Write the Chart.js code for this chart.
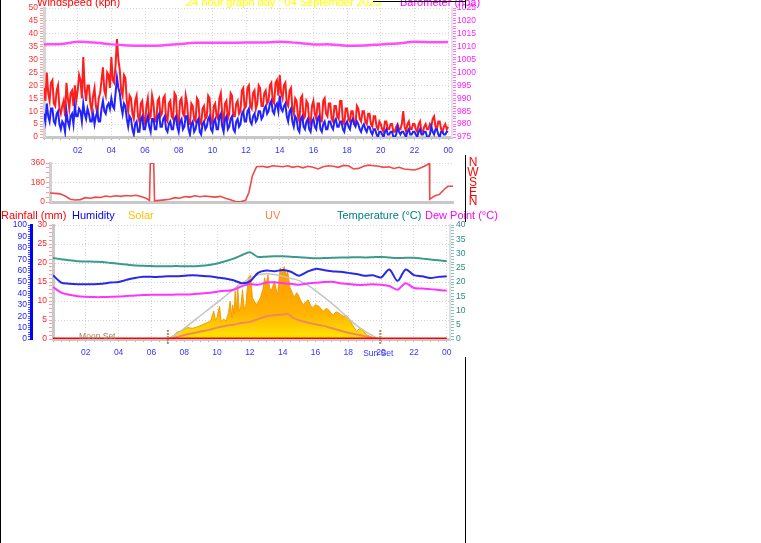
<!DOCTYPE html>
<html>
<head>
<meta charset="utf-8">
<script src="https://cdn.jsdelivr.net/npm/chart.js@4/dist/chart.umd.min.js"></script>
<style>
body { margin: 0; background: #fff; width: 761px; height: 543px; overflow: hidden; position: relative; }
canvas { position: absolute; left: 0; }
.edge { position: absolute; background: #000; }
</style>
</head>
<body>
<canvas id="windChart" width="500" height="160" style="top:0"></canvas>
<canvas id="dirChart" width="480" height="62" style="top:150px"></canvas>
<canvas id="lowerChart" width="500" height="155" style="top:205px"></canvas>
<div class="edge" style="left:0;top:0;width:1px;height:543px"></div>
<div class="edge" style="left:373px;top:1px;width:93px;height:1px"></div>
<div class="edge" style="left:465px;top:0;width:1px;height:8px"></div>
<div class="edge" style="left:465px;top:155px;width:1px;height:67px"></div>
<div class="edge" style="left:465px;top:357px;width:1px;height:186px"></div>
<script>
// narrow font if the machine has it, otherwise the regular one a bit smaller
function hasFont(name) {
  const c = document.createElement('canvas').getContext('2d');
  c.font = '20px "' + name + '", monospace';
  const a = c.measureText('Temperature 1025').width;
  c.font = '20px monospace';
  return a !== c.measureText('Temperature 1025').width;
}
const NARROW = hasFont('Liberation Sans Narrow');
const FONT = NARROW ? '"Liberation Sans Narrow", "Liberation Sans", Arial, sans-serif' : '"Liberation Sans", Arial, sans-serif';
const HEAD_SIZE = NARROW ? 13 : 11;
const TICK_SIZE = NARROW ? 10 : 8.5;

// time axis labels (hours of the day)
const tickHours = [2, 4, 6, 8, 10, 12, 14, 16, 18, 20, 22, 24];
const tickLabels = ['02', '04', '06', '08', '10', '12', '14', '16', '18', '20', '22', '00'];

// wind speed, one reading every 5 minutes (kph), one row per hour
const windGust = [
  19, 14, 25, 17, 14, 21, 22, 13, 12, 18, 20, 11,
  9, 12, 14, 8, 21, 15, 11, 17, 18, 12, 20, 14,
  18, 24, 22, 15, 31, 19, 14, 20, 20, 13, 10, 16,
  19, 12, 9, 15, 17, 22, 27, 18, 16, 25, 24, 19,
  31, 22, 21, 28, 38, 30, 26, 18, 16, 24, 23, 14,
  10, 16, 15, 9, 7, 14, 16, 8, 6, 13, 14, 7,
  5, 12, 15, 7, 8, 16, 13, 6, 6, 14, 15, 8,
  9, 15, 16, 7, 6, 13, 14, 8, 7, 17, 16, 6,
  5, 14, 15, 9, 8, 16, 13, 5, 5, 13, 12, 7,
  6, 15, 14, 6, 5, 11, 12, 7, 8, 16, 15, 6,
  5, 12, 13, 8, 7, 15, 17, 9, 6, 13, 14, 7,
  9, 17, 16, 8, 8, 13, 14, 9, 10, 18, 19, 11,
  12, 19, 20, 12, 11, 17, 18, 11, 13, 20, 19, 12,
  12, 17, 18, 13, 14, 20, 21, 14, 13, 21, 22, 16,
  24, 17, 15, 20, 21, 13, 12, 18, 19, 11, 9, 15,
  14, 8, 6, 15, 16, 7, 8, 14, 13, 6, 5, 12,
  14, 9, 7, 13, 13, 6, 6, 14, 15, 9, 8, 13,
  13, 7, 6, 12, 12, 8, 7, 14, 14, 6, 5, 11,
  11, 7, 6, 10, 10, 5, 5, 12, 11, 7, 6, 10,
  10, 6, 5, 9, 9, 5, 4, 8, 8, 4, 3, 6,
  5, 3, 2, 6, 6, 3, 3, 5, 5, 2, 2, 4,
  5, 3, 3, 5, 10, 4, 2, 5, 6, 3, 3, 5,
  5, 3, 2, 5, 6, 2, 2, 4, 5, 3, 3, 5,
  4, 7, 8, 4, 3, 6, 6, 3, 2, 4, 5, 3,
  4
];
const windAvg = [
  9, 6, 13, 8, 6, 11, 11, 6, 5, 9, 10, 5,
  3, 6, 5, 2, 10, 6, 4, 8, 9, 5, 12, 8,
  8, 11, 10, 6, 13, 9, 7, 11, 9, 6, 6, 9,
  5, 8, 10, 6, 6, 11, 14, 10, 9, 12, 13, 11,
  15, 12, 11, 17, 23, 19, 17, 12, 9, 13, 12, 7,
  4, 8, 7, 3, 1, 5, 6, 2, 2, 7, 8, 3,
  3, 6, 8, 4, 2, 7, 7, 3, 3, 8, 9, 4,
  4, 7, 8, 3, 2, 5, 6, 3, 3, 7, 8, 4,
  2, 6, 7, 3, 4, 8, 8, 3, 1, 5, 6, 2,
  3, 6, 7, 2, 1, 5, 6, 3, 4, 7, 8, 3,
  2, 6, 7, 3, 3, 8, 9, 4, 2, 7, 8, 3,
  4, 7, 8, 3, 2, 6, 7, 4, 5, 9, 10, 6,
  6, 10, 11, 6, 5, 8, 9, 6, 7, 10, 10, 7,
  8, 11, 12, 9, 10, 13, 14, 10, 9, 12, 13, 10,
  16, 11, 10, 12, 13, 8, 6, 10, 11, 6, 4, 8,
  7, 3, 2, 7, 8, 4, 3, 6, 7, 3, 2, 6,
  7, 4, 3, 7, 8, 3, 2, 5, 6, 3, 3, 6,
  6, 4, 3, 6, 7, 4, 4, 6, 6, 3, 2, 5,
  6, 4, 3, 6, 7, 5, 4, 6, 5, 3, 2, 4,
  5, 3, 2, 4, 4, 2, 1, 3, 3, 1, 0, 2,
  2, 1, 0, 2, 3, 1, 1, 2, 2, 0, 0, 1,
  4, 2, 1, 2, 2, 1, 0, 2, 3, 1, 1, 2,
  2, 1, 0, 2, 3, 1, 1, 2, 2, 0, 0, 1,
  4, 2, 1, 3, 3, 1, 0, 2, 2, 1, 1, 2,
  2
];

// barometer, hourly (hpa)
const baroHours = [0, 1, 2, 3, 4, 5, 6, 7, 8, 9, 10, 11, 12, 13, 14, 15, 16, 17, 18, 19, 20, 21, 22, 23, 24];
const baroValues = [1010.9, 1011.0, 1011.9, 1011.6, 1010.9, 1010.5, 1010.4, 1010.5, 1011.0, 1011.5, 1011.5, 1011.5,
  1011.6, 1011.6, 1011.9, 1011.5, 1010.9, 1010.9, 1010.4, 1010.5, 1010.9, 1011.2, 1011.9, 1011.7, 1011.8];

// wind direction (degrees)
const dirHours = [0.4, 0.7, 1.0, 1.3, 1.6, 1.9, 2.2, 2.5, 2.8, 3.1, 3.4, 3.7, 4.0, 4.3, 4.6, 4.9, 5.2, 5.5, 5.8, 6.1,
  6.3, 6.35, 6.55, 6.6, 6.9, 7.2, 7.5, 7.8, 8.1, 8.4, 8.7, 9.0, 9.3, 9.6, 9.9, 10.2, 10.5, 10.8, 11.1, 11.4,
  11.7, 12.0, 12.2, 12.4, 12.65, 13.0, 13.3, 13.6, 13.9, 14.2, 14.5, 14.8, 15.1, 15.4, 15.7, 16.0, 16.3, 16.6, 16.9, 17.2,
  17.5, 17.8, 18.1, 18.4, 18.7, 19.0, 19.3, 19.6, 19.9, 20.2, 20.5, 20.8, 21.1, 21.4, 21.7, 22.0, 22.3, 22.6, 22.9, 22.92,
  23.2, 23.5, 23.8, 24.0, 24.3];
const dirValues = [83, 80, 75, 55, 25, 18, 22, 40, 35, 45, 42, 55, 48, 58, 52, 60, 55, 62, 50, 35,
  15, 355, 360, 10, 15, 20, 25, 40, 35, 50, 45, 58, 48, 55, 50, 45, 52, 35, 20, 5,
  2, 15, 90, 240, 325, 330, 320, 335, 330, 325, 335, 320, 330, 315, 330, 320, 305, 325, 335, 330,
  320, 338, 335, 305, 310, 330, 340, 335, 330, 320, 325, 310, 320, 305, 300, 295, 310, 330, 355, 25,
  55, 70, 120, 145, 145];
const compassLabels = ['N', 'W', 'S', 'E', 'N'];
const compassDegrees = [360, 270, 180, 90, 0];

// temperature / humidity / dew point, every half hour
const temperature = [28.4, 28.0, 27.6, 27.3, 27.2, 27.1, 27.0, 26.7, 26.4, 26.1, 25.8, 25.7, 25.6, 25.5, 25.5, 25.6,
  25.5, 25.5, 25.7, 26.0, 26.5, 27.3, 28.2, 29.4, 30.4, 28.8, 28.9, 29.0, 29.0, 28.9, 28.7, 28.5,
  28.3, 28.4, 28.5, 28.6, 28.6, 28.7, 28.6, 28.7, 28.8, 28.6, 28.4, 28.5, 28.5, 28.2, 27.9, 27.6, 27.3];
const humidity = [56, 49.5, 48.5, 48, 48, 48, 48.5, 49.5, 50, 52, 53.5, 54.5, 54.5, 54.5, 55, 55,
  55.5, 56, 55.5, 55, 54, 53, 51.5, 49, 50.5, 58, 60, 59.5, 60.5, 59, 55.5, 59,
  61.5, 60.5, 59.5, 59, 58, 57, 55.5, 56, 54, 61, 51, 61, 56, 55, 53.5, 54.5, 55];
const dewPoint = [18.2, 16.3, 15.5, 15.0, 14.8, 14.7, 14.7, 14.8, 14.9, 15.1, 15.3, 15.4, 15.5, 15.5, 15.5, 15.6,
  15.6, 15.7, 16.0, 16.2, 16.6, 16.9, 17.2, 18.5, 19.3, 19.0, 19.8, 19.9, 19.6, 19.4, 19.0, 19.5,
  19.7, 20.0, 20.1, 19.6, 19.3, 19.0, 19.0, 19.2, 19.0, 18.6, 17.3, 19.6, 17.9, 17.7, 17.5, 17.2, 17.0];

// rainfall (mm)
const rainHours = [0, 24];
const rainValues = [0, 0];

// solar radiation (W/m2), measured and clear-sky
const solarHours = [0, 7.0, 7.3, 7.6, 7.9, 8.2, 8.5, 8.8, 9.1, 9.4, 9.6, 9.8, 9.9, 10.0, 10.15, 10.25, 10.4, 10.55, 10.7, 10.8,
  10.9, 10.95, 11.05, 11.1, 11.2, 11.25, 11.35, 11.45, 11.55, 11.65, 11.75, 11.9, 12.05, 12.15, 12.3, 12.4, 12.55, 12.65, 12.8, 12.9,
  13.0, 13.1, 13.2, 13.3, 13.4, 13.5, 13.6, 13.7, 13.85, 13.95, 14.1, 14.2, 14.3, 14.45, 14.6, 14.7, 14.85, 14.95, 15.1, 15.25,
  15.4, 15.55, 15.7, 15.85, 16.0, 16.2, 16.35, 16.5, 16.65, 16.8, 16.95, 17.1, 17.25, 17.4, 17.55, 17.7, 17.85, 18.0, 18.25, 18.5,
  18.7, 18.85, 19.1, 19.35, 19.7, 19.95, 24];
const solarValues = [0, 0, 40, 100, 120, 160, 150, 170, 200, 230, 250, 390, 260, 300, 460, 240, 280, 250, 370, 530,
  300, 480, 350, 670, 400, 760, 390, 450, 690, 420, 460, 860, 900, 580, 520, 480, 540, 580, 700, 860,
  760, 900, 720, 670, 740, 810, 700, 620, 1000, 930, 1015, 880, 950, 720, 640, 580, 650, 620, 540, 480,
  520, 550, 470, 440, 480, 460, 420, 390, 430, 410, 360, 340, 380, 370, 340, 320, 330, 300, 200, 107,
  150, 130, 60, 35, 10, 0, 0];
const clearSkyHours = [7.0, 7.5, 8, 8.5, 9, 9.5, 10, 10.5, 11, 11.5, 12, 12.5, 13, 13.5, 14, 14.5, 15, 15.5, 16, 16.5,
  17, 17.5, 18, 18.5, 19, 19.5, 19.9];
const clearSkyValues = [0, 60, 150, 240, 330, 420, 510, 600, 700, 780, 850, 900, 915, 905, 880, 850, 820, 760, 680, 590,
  500, 400, 290, 190, 110, 45, 0];

// UV index
const uvHours = [0, 7.0, 7.5, 8.0, 8.5, 9.0, 9.5, 10.0, 10.5, 11.0, 11.5, 12.0, 12.5, 13.0, 13.5, 14.0, 14.3, 14.6, 15.0, 15.5,
  16.0, 16.5, 17.0, 17.5, 18.0, 18.5, 19.0, 19.5, 19.9, 24];
const uvValues = [0, 0, 0.3, 0.7, 1.0, 1.3, 1.6, 2.0, 2.3, 2.5, 2.8, 3.0, 3.5, 4.0, 4.2, 4.3, 4.4, 3.8, 3.3, 2.9,
  2.6, 2.3, 1.9, 1.5, 1.1, 0.8, 0.5, 0.2, 0, 0];

// sun events
const sunriseHour = 7.0;
const sunsetHour = 19.95;
const moonSetLabelHour = 2.7;

const windTimes = windGust.map((_, i) => i / 12);
const halfHours = temperature.map((_, i) => i / 2);
const pts = (xs, ys) => xs.map((x, i) => ({ x: x, y: ys[i] }));
const isStep = (v, step) => Math.abs(v / step - Math.round(v / step)) < 1e-6;
const HIDE = 'rgba(0,0,0,0)';
const tickFont = { family: FONT, size: TICK_SIZE };

function timeAxis(min, max, height) {
  return {
    type: 'linear', min: min, max: max,
    afterFit: s => { s.height = height; },
    afterBuildTicks: s => {
      const t = [];
      for (let v = 0; v <= 24; v += 0.5) t.push({ value: v });
      s.ticks = t;
    },
    ticks: {
      stepSize: 0.5, autoSkip: false, maxRotation: 0, padding: 6,
      color: '#3434FF', font: tickFont,
      callback: v => { const i = tickHours.indexOf(v); return i >= 0 ? tickLabels[i] : ''; }
    },
    grid: {
      color: c => (c.tick && isStep(c.tick.value, 2) && c.tick.value > 0) ? '#D6D6D6' : HIDE,
      tickColor: '#B8B8B8', tickLength: 3
    },
    border: { color: '#C8C8C8', width: 3, dash: [1, 2] }
  };
}

function valueAxis(o) {
  return {
    type: 'linear', position: o.position, min: o.min, max: o.max, weight: o.weight || 0,
    afterFit: s => { s.width = o.width; },
    ticks: {
      stepSize: o.step, autoSkip: false, padding: o.padding || 2,
      color: o.labelColor, font: tickFont,
      callback: v => isStep(v, o.labelStep) ? String(v) : ''
    },
    grid: {
      drawOnChartArea: !!o.gridStep,
      color: c => (o.gridStep && c.tick && isStep(c.tick.value, o.gridStep) && c.tick.value > o.min) ? '#D6D6D6' : HIDE,
      tickColor: o.tickColor, tickLength: o.tickLength || 4
    },
    border: { color: o.borderColor, width: o.borderWidth, dash: [1, 2] }
  };
}

const common = {
  responsive: false, animation: false, events: [],
  plugins: { legend: { display: false }, tooltip: { enabled: false } },
  elements: { point: { radius: 0 }, line: { tension: 0 } }
};

// TOP PANEL: wind speed + barometer
new Chart(document.getElementById('windChart'), {
  type: 'line',
  data: {
    datasets: [
      { data: pts(baroHours, baroValues), yAxisID: 'yBaro', borderColor: '#FF4CFF', borderWidth: 2.5, tension: 0.3 },
      { data: pts(windTimes, windAvg), yAxisID: 'yWind', borderColor: '#2222FF', borderWidth: 2 },
      { data: pts(windTimes, windGust), yAxisID: 'yWind', borderColor: '#FF1E1E', borderWidth: 2 }
    ]
  },
  options: Object.assign({}, common, {
    layout: { padding: { top: 8, right: 20 } },
    scales: {
      x: timeAxis(0, 24.23, 23),
      yWind: valueAxis({ position: 'left', min: 0, max: 50, step: 1, labelStep: 5, gridStep: 5, width: 44,
        labelColor: '#FF3030', tickColor: '#FF9A9A', borderColor: '#D4D4D4', borderWidth: 3 }),
      yBaro: valueAxis({ position: 'right', min: 975, max: 1025, step: 1, labelStep: 5, gridStep: 0, width: 28,
        labelColor: '#FF22FF', tickColor: '#FF70FF', borderColor: '#E4E4E4', borderWidth: 2, padding: 1 })
    }
  }),
  plugins: [{
    id: 'titles',
    afterDraw(chart) {
      const c = chart.ctx;
      c.save();
      c.font = HEAD_SIZE + 'px ' + FONT;
      c.textBaseline = 'alphabetic';
      c.fillStyle = '#FF0000'; c.fillText('Windspeed (kph)', 37, 6);
      c.fillStyle = '#FFFF00'; c.fillText('24 hour graph day : 04 September 2025', 186, 6);
      c.fillStyle = '#FF00FF'; c.fillText('Barometer (hpa)', 400, 6);
      c.restore();
    }
  }]
});

// MIDDLE PANEL: wind direction
new Chart(document.getElementById('dirChart'), {
  type: 'line',
  data: {
    datasets: [
      { data: pts(dirHours, dirValues), yAxisID: 'yDir', borderColor: '#F24848', borderWidth: 1.6 }
    ]
  },
  options: Object.assign({}, common, {
    layout: { padding: { top: 13, right: 27 } },
    scales: {
      x: {
        type: 'linear', min: 0.4, max: 24.3,
        afterFit: s => { s.height = 10; },
        ticks: { display: false }, grid: { display: false },
        border: { color: '#C8C8C8', width: 3 }
      },
      yDir: valueAxis({ position: 'left', min: 0, max: 360, step: 45, labelStep: 180, gridStep: 180, width: 50,
        labelColor: '#FF3030', tickColor: '#FF9A9A', borderColor: '#D0D0D0', borderWidth: 3, padding: 1 })
    }
  }),
  plugins: [{
    id: 'compass',
    afterDraw(chart) {
      const c = chart.ctx, y = chart.scales.yDir;
      c.save();
      c.font = (HEAD_SIZE + 1) + 'px ' + FONT;
      c.fillStyle = '#FF0000';
      c.textAlign = 'center';
      c.textBaseline = 'middle';
      compassLabels.forEach((t, i) => c.fillText(t, 473, y.getPixelForValue(compassDegrees[i])));
      c.restore();
    }
  }]
});

// LOWER PANEL: temperature, humidity, dew point, solar, UV, rain
new Chart(document.getElementById('lowerChart'), {
  type: 'line',
  data: {
    datasets: [
      { data: pts(rainHours, rainValues), yAxisID: 'yRain', borderColor: '#FF0000', borderWidth: 3 },
      { data: pts(halfHours, temperature), yAxisID: 'yTemp', borderColor: '#3A9A8C', borderWidth: 2, tension: 0.3 },
      { data: pts(halfHours, humidity), yAxisID: 'yHum', borderColor: '#2828E8', borderWidth: 2, tension: 0.3 },
      { data: pts(halfHours, dewPoint), yAxisID: 'yTemp', borderColor: '#FF33FF', borderWidth: 2, tension: 0.3 },
      { data: pts(uvHours, uvValues), yAxisID: 'yUV', borderColor: '#F08A5A', borderWidth: 2, tension: 0.3 },
      { data: pts(clearSkyHours, clearSkyValues), yAxisID: 'ySolar', borderColor: '#C4C4C4', borderWidth: 1.5, tension: 0.4 },
      {
        data: pts(solarHours, solarValues), yAxisID: 'ySolar', borderColor: '#F39A00', borderWidth: 1, fill: 'origin',
        backgroundColor: ctx => {
          const area = ctx.chart.chartArea;
          if (!area) return '#FFA800';
          const g = ctx.chart.ctx.createLinearGradient(0, area.top + 40, 0, area.bottom);
          g.addColorStop(0, '#FF9800');
          g.addColorStop(0.65, '#FFB200');
          g.addColorStop(1, '#FFE800');
          return g;
        }
      }
    ]
  },
  options: Object.assign({}, common, {
    layout: { padding: { top: 20, right: 20 } },
    scales: {
      x: timeAxis(0, 24.2, 21),
      yHum: valueAxis({ position: 'left', weight: 1, min: 0, max: 100, step: 2, labelStep: 10, gridStep: 0, width: 31,
        labelColor: '#1E1EFF', tickColor: '#4A4AFF', borderColor: '#0000FF', borderWidth: 3, tickLength: 3, padding: 1 }),
      yRain: valueAxis({ position: 'left', weight: 0, min: 0, max: 30, step: 1, labelStep: 5, gridStep: 5, width: 22,
        labelColor: '#FF2020', tickColor: '#FF9A9A', borderColor: '#C8C8C8', borderWidth: 3 }),
      yTemp: valueAxis({ position: 'right', min: 0, max: 40, step: 1, labelStep: 5, gridStep: 0, width: 30,
        labelColor: '#2A8A80', tickColor: '#7FC0B8', borderColor: '#E0E0E0', borderWidth: 2, padding: 2 }),
      ySolar: { display: false, min: 0, max: 1600 },
      yUV: { display: false, min: 0, max: 20 }
    }
  }),
  plugins: [{
    id: 'annotations',
    afterDraw(chart) {
      const c = chart.ctx, x = chart.scales.x, a = chart.chartArea;
      c.save();
      c.font = HEAD_SIZE + 'px ' + FONT;
      c.textBaseline = 'middle';
      const heads = [['Rainfall (mm)', '#FF0000', 1], ['Humidity', '#0000FF', 72], ['Solar', '#FFC000', 128],
        ['UV', '#FF7F40', 265], ['Temperature (\u00B0C)', '#008080', 337], ['Dew Point (\u00B0C)', '#FF00FF', 425]];
      heads.forEach(h => { c.fillStyle = h[1]; c.fillText(h[0], h[2], 11); });
      c.strokeStyle = '#A88E6C';
      c.lineWidth = 2;
      c.setLineDash([2, 1]);
      [sunriseHour, sunsetHour].forEach(hr => {
        const px = x.getPixelForValue(hr);
        c.beginPath(); c.moveTo(px, a.bottom - 9); c.lineTo(px, a.bottom + 5); c.stroke();
      });
      c.setLineDash([]);
      c.font = TICK_SIZE + 'px ' + FONT;
      c.textAlign = 'center';
      c.fillStyle = '#A08060';
      c.fillText('Moon Set', x.getPixelForValue(moonSetLabelHour), a.bottom - 2);
      c.fillStyle = '#3434FF';
      c.fillText('Sun Set', x.getPixelForValue(sunsetHour) - 2, a.bottom + 15);
      c.restore();
    }
  }]
});
</script>
</body>
</html>
